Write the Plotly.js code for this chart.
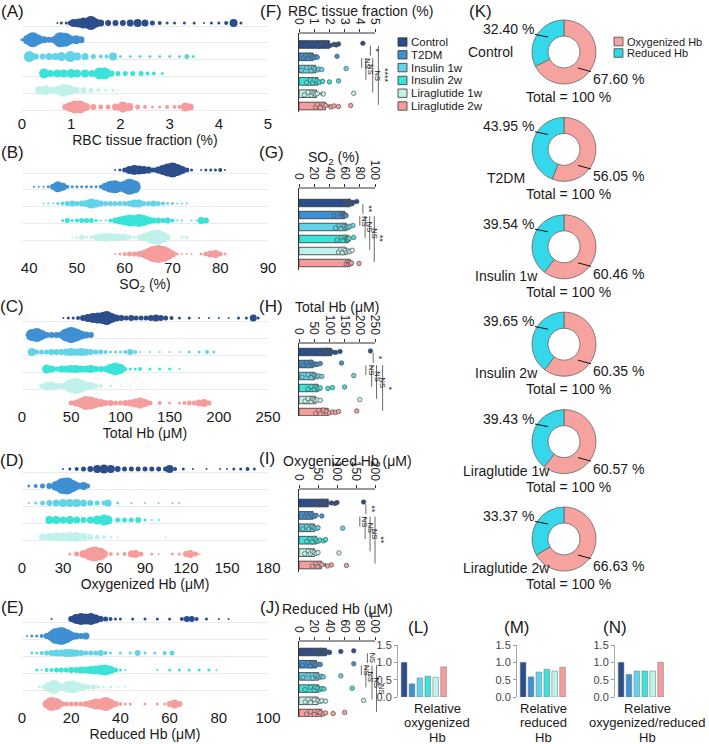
<!DOCTYPE html>
<html><head><meta charset="utf-8">
<script src="https://cdn.plot.ly/plotly-3.0.1.min.js"></script>
<style>html,body{margin:0;padding:0;background:#fff}#chart{width:709px;height:744px}</style>
</head><body><div id="chart"></div>
<script>
// ---------------- DATA ----------------
const groups = ['Control','T2DM','Insulin 1w','Insulin 2w','Liraglutide 1w','Liraglutide 2w'];
const groupColors = ['#2b4d8c','#3f8fd3','#63d3e7','#3ae3d8','#c0f1ea','#f59d9d'];

// bubble strips: [value, bubble diameter]
const rbcBubbles = [
 [[0.72,2],[0.8,3],[0.9,3],[0.98,5],[1.05,8],[1.15,9],[1.25,11],[1.4,14],[1.5,9],[1.6,7],[1.75,6],[1.9,6],[2.05,6],[2.2,7],[2.35,8],[2.5,7],[2.65,5],[2.8,4],[2.95,3],[3.1,3],[3.3,3],[3.5,3],[3.7,2],[3.85,3],[4.0,3],[4.15,4],[4.3,8],[4.45,3]],
 [[0.0,3],[0.12,10],[0.22,15],[0.33,10],[0.45,7],[0.55,6],[0.65,7],[0.78,15],[0.88,14],[0.98,9],[1.1,9],[1.2,7]],
 [[0.15,11],[0.28,6],[0.42,6],[0.55,7],[0.68,7],[0.8,9],[0.98,11],[1.12,8],[1.28,7],[1.45,5],[1.6,4],[1.72,4],[1.85,8],[2.0,3],[2.2,3],[2.4,3],[2.6,3],[2.8,3],[3.0,3],[3.2,3],[3.35,5],[3.48,3]],
 [[0.45,10],[0.58,7],[0.72,8],[0.85,8],[1.0,9],[1.12,8],[1.28,8],[1.42,7],[1.58,12],[1.68,12],[1.82,6],[1.95,5],[2.1,5],[2.25,5],[2.42,5],[2.55,4],[2.68,4],[2.85,3]],
 [[0.35,8],[0.48,10],[0.62,7],[0.75,9],[0.85,13],[0.97,10],[1.1,7],[1.25,6],[1.4,5],[1.55,4],[1.7,3],[1.85,3],[1.95,2]],
 [[0.88,6],[0.98,10],[1.08,13],[1.18,13],[1.3,8],[1.45,6],[1.6,5],[1.75,5],[1.9,7],[2.05,11],[2.18,8],[2.35,5],[2.5,4],[2.65,3],[2.8,3],[2.95,4],[3.1,4],[3.2,4],[3.32,9],[3.42,7]]
];
const so2Bubbles = [
 [[58,2],[59,3],[60,5],[61,8],[62,10],[63,9],[64,8],[65,7],[66,5],[67,7],[68,10],[69,13],[70,15],[71,12],[72,8],[73,5],[74,3],[76,2],[77,3],[78,3],[79,3],[80,4],[81,2]],
 [[41,2],[42,2],[43,2],[44,3],[45,6],[46,11],[47,8],[48,4],[49,3],[50,3],[51,3],[52,3],[53,3],[54,3],[55,4],[56,8],[57,12],[58,13],[59,10],[60,12],[61,16],[62,13]],
 [[43,2],[44,2],[45,2],[46,3],[47,4],[48,5],[49,6],[50,5],[51,6],[52,7],[53,10],[54,8],[55,6],[56,5],[57,5],[58,5],[59,5],[60,5],[61,6],[62,8],[63,8],[64,5],[65,5],[66,6],[67,5],[68,4],[69,3],[70,3],[71,2],[72,2],[73,2]],
 [[47,3],[48,5],[49,3],[50,4],[51,5],[52,5],[53,5],[54,3],[55,2],[56,2],[57,4],[58,6],[59,8],[60,10],[61,12],[62,11],[63,13],[64,11],[65,8],[66,6],[67,6],[68,5],[69,6],[70,4],[71,2],[72,2],[74,2],[75,2],[76,7],[77,6]],
 [[49,2],[50,3],[51,5],[52,3],[53,4],[54,6],[55,8],[56,9],[57,8],[58,8],[59,7],[60,7],[61,5],[62,3],[63,5],[64,8],[65,11],[66,14],[67,15],[68,11],[69,6],[72,3],[73,3]],
 [[58,2],[59,3],[60,4],[61,5],[62,5],[63,6],[64,8],[65,12],[66,16],[67,18],[68,16],[69,12],[70,7],[71,3],[72,2],[73,2],[74,2],[76,3],[77,5],[78,7],[79,8],[80,5],[81,3]]
];
const totalBubbles = [
 [[42,2],[47,3],[52,3],[57,4],[62,6],[67,8],[72,10],[77,11],[82,12],[86,14],[91,10],[96,7],[101,6],[106,5],[111,6],[116,5],[121,5],[126,5],[131,6],[136,7],[141,6],[146,5],[152,4],[160,3],[170,3],[180,2],[190,2],[200,2],[210,2],[220,3],[228,3],[235,7],[240,3]],
 [[5,3],[10,12],[15,14],[20,10],[25,6],[30,6],[35,6],[40,7],[45,13],[50,16],[55,13],[60,9],[65,7],[70,6]],
 [[10,8],[15,5],[20,5],[25,5],[30,6],[35,6],[40,6],[45,7],[50,8],[55,7],[60,8],[65,7],[70,6],[75,5],[80,5],[85,4],[90,3],[95,3],[100,3],[105,4],[110,6],[115,4],[120,2],[130,2],[140,2],[150,2],[160,2],[170,3],[180,3],[188,4],[195,3]],
 [[25,9],[30,7],[35,5],[40,7],[45,7],[50,8],[55,8],[60,7],[65,7],[70,8],[75,6],[80,6],[85,6],[90,10],[95,13],[100,10],[105,4],[110,3],[115,3],[120,4],[130,3],[140,3],[150,3],[160,2]],
 [[20,5],[25,8],[30,9],[35,6],[40,6],[45,8],[50,14],[55,16],[60,13],[65,9],[70,8],[75,5],[80,4],[90,3],[100,2],[110,2]],
 [[50,5],[55,7],[60,10],[65,14],[70,13],[75,10],[80,8],[85,6],[90,6],[95,5],[100,5],[105,6],[110,7],[115,9],[120,11],[125,8],[130,5],[140,4],[150,3],[160,3],[165,4],[170,5],[175,5],[180,7],[185,8],[190,5]]
];
const oxyBubbles = [
 [[30,2],[35,3],[40,4],[45,5],[50,6],[55,8],[60,9],[65,8],[70,6],[75,5],[80,5],[85,5],[90,5],[95,5],[100,5],[105,5],[108,8],[112,4],[118,3],[125,2],[135,2],[145,2],[150,2],[155,3],[160,3],[165,4],[170,3]],
 [[5,3],[10,4],[15,5],[20,6],[25,10],[30,16],[33,17],[37,12],[40,8],[45,8],[48,5]],
 [[5,2],[10,3],[15,5],[20,6],[25,7],[30,8],[35,8],[40,8],[45,7],[50,6],[55,5],[60,5],[63,7],[70,3],[80,2],[90,2],[100,2],[110,2],[115,2]],
 [[20,8],[25,8],[30,7],[35,8],[40,7],[45,6],[50,7],[55,9],[60,11],[63,9],[70,5],[75,5],[80,5],[85,6],[90,3],[95,2],[100,2]],
 [[15,7],[20,8],[25,9],[30,9],[35,10],[40,10],[45,8],[50,6],[55,5],[60,4],[65,3],[70,2],[105,2]],
 [[35,3],[40,5],[45,8],[50,13],[53,15],[57,13],[60,8],[65,4],[70,3],[75,4],[80,7],[83,8],[87,5],[95,3],[100,2],[110,3],[115,3],[120,6],[123,8],[127,5],[130,2]]
];
const redBubbles = [
 [[12,2],[20,6],[22,10],[24,12],[26,11],[28,12],[30,9],[32,6],[34,5],[36,4],[38,3],[40,3],[45,3],[50,3],[55,3],[60,3],[65,4],[67,6],[69,6],[71,4],[75,3],[80,2],[84,2]],
 [[2,2],[4,3],[6,3],[8,4],[10,6],[12,10],[14,16],[16,18],[18,14],[20,9],[22,7],[24,6],[26,7]],
 [[4,3],[6,3],[8,4],[10,5],[12,6],[14,7],[16,7],[18,8],[20,8],[22,7],[24,6],[26,5],[28,5],[30,5],[32,6],[34,4],[36,3],[40,3],[44,3],[47,6],[50,3],[54,3],[58,4],[61,5]],
 [[6,3],[8,2],[10,4],[12,4],[14,5],[16,5],[18,5],[20,6],[22,6],[24,7],[26,7],[28,8],[30,9],[32,10],[34,11],[36,8],[38,5],[40,3],[42,2],[55,2],[60,3],[64,3],[68,3],[72,3],[76,3],[79,2]],
 [[7,3],[9,5],[11,10],[13,14],[15,8],[17,7],[19,12],[21,13],[23,9],[25,7],[27,5],[29,5],[31,4],[33,3],[36,3],[39,2],[42,2]],
 [[10,8],[12,14],[14,12],[16,6],[18,5],[20,5],[22,5],[24,5],[26,6],[28,8],[30,11],[32,11],[34,14],[36,10],[38,6],[40,4],[42,3],[44,3],[50,3],[55,3],[58,3],[60,6],[62,9],[64,6]]
];

// bar panels: means, SEM, individual animals
const rbcMeans = [2.0, 0.93, 1.1, 1.25, 1.15, 1.74];
const rbcSem = [0.35, 0.2, 0.28, 0.22, 0.32, 0.25];
const rbcDots = [[0.55,0.9,1.3,1.55,1.7,2.05,2.3,2.45,2.6,4.2],[0.3,0.45,0.6,0.75,0.9,1.0,1.1,1.2,2.5],[0.15,0.5,0.8,0.95,1.05,1.2,1.3,1.5,3.1],[0.5,0.75,0.9,1.0,1.2,1.35,1.55,2.0,2.6],[0.35,0.6,0.8,0.9,1.0,1.1,1.2,1.6,3.6],[1.1,1.2,1.4,1.6,1.75,2.1,2.3,2.6,3.4]];
const so2Means = [67, 60, 62.5, 65, 62, 67];
const so2Sem = [2, 1.5, 2.2, 2, 1.8, 1.8];
const so2Dots = [[60,62,64,66,67,68,69,70,71,76],[46,55,57,58,59,60,61,62],[48,53,55,58,60,62,63,65,67,71],[50,56,58,60,62,63,64,65,66,72],[52,55,57,59,61,63,65,67,70],[62,64,65,66,67,68,69,79]];
const totalMeans = [107, 46, 52, 63, 55, 96];
const totalSem = [16, 10, 15, 11, 17, 12];
const totalDots = [[40,70,80,90,95,100,110,120,135,235],[15,25,30,40,45,50,55,60,70,140],[10,30,40,50,55,60,65,75,180],[30,40,50,55,60,65,70,95,110,150],[20,30,40,45,50,55,60,70,200],[55,65,70,80,90,100,110,120,130,190]];
const oxyMeans = [77, 37, 41, 46, 41, 59];
const oxySem = [12, 5, 10, 6, 9, 10];
const oxyDots = [[35,45,55,60,65,70,85,95,100,170],[15,20,25,30,35,40,45,60],[10,20,25,35,40,45,50,115],[20,30,35,40,45,50,55,65,70],[15,25,30,35,40,45,50,105],[35,45,50,55,60,75,85,125]];
const redMeans = [36, 23, 26, 26, 25, 30];
const redSem = [6, 6, 4, 5, 7, 5];
const redDots = [[10,20,25,28,30,35,38,40,55,72],[5,12,15,18,20,22,25,28,72],[5,12,18,22,25,28,30,32,55],[8,15,20,22,25,28,30,33,70],[8,12,15,20,25,28,30,35,85],[10,15,20,25,28,32,35,45,60]];

// significance brackets: [fromRow, toRow, value, label]
const rbcSig = [[0,1,4.7,'*'],[1,2,4.12,'NS'],[1,3,4.4,'NS'],[1,4,4.85,'NS'],[0,5,5.22,'****']];
const so2Sig = [[0,1,84,'**'],[1,2,80,'NS'],[1,3,87,'NS'],[1,4,93,'NS'],[1,5,99,'**']];
const totalSig = [[0,1,244,'*'],[1,2,220,'NS'],[1,3,239,'NS'],[1,4,255,'NS'],[1,5,275,'*']];
const oxySig = [[0,1,176,'**'],[1,2,160,'NS'],[1,3,174,'NS'],[1,4,187,'NS'],[1,5,200,'**']];
const redSig = [[0,1,90,'NS'],[1,2,82,'NS'],[1,3,88,'NS'],[1,4,96,'NS'],[1,5,102,'NS']];

// donuts
const oxyPct = [67.60, 56.05, 60.46, 60.35, 60.57, 66.63];
const redPct = [32.40, 43.95, 39.54, 39.65, 39.43, 33.37];
const donutLabels = ['Oxygenized Hb', 'Reduced Hb'];
const donutColors = ['#f6a29f', '#35d7ea'];

// relative bars
const relOxy = [1.0, 0.38, 0.55, 0.6, 0.57, 0.87];
const relRed = [1.0, 0.58, 0.72, 0.8, 0.75, 0.86];
const relRatio = [1.0, 0.65, 0.75, 0.75, 0.75, 1.0];

// ---------------- BUILD ----------------
const W = 709, H = 744;
const px = x => x / W, py = y => 1 - y / H;
const FONT = 'Liberation Sans, Arial, Helvetica, sans-serif';
const TXT = '#1a1a1a';
const traces = [], shapes = [], annotations = [];
const layout = {
  width: W, height: H, margin: {l:0, r:0, t:0, b:0},
  paper_bgcolor: '#fff', plot_bgcolor: 'rgba(0,0,0,0)',
  showlegend: false, font: {family: FONT, color: TXT}, hovermode: false
};
const axName = n => (n === 1 ? '' : String(n));
function note(text, x, y, size, opts) {
  annotations.push(Object.assign({text, x: px(x), y: py(y), xref:'paper', yref:'paper',
    showarrow:false, font:{size, color:TXT, family:FONT}, xanchor:'center', yanchor:'middle', borderpad:0}, opts||{}));
}

// ---- A-E bubble strips ----
const bubblePanels = [
  {data: rbcBubbles, range:[0,5], ticks:[0,1,2,3,4,5], title:'RBC tissue fraction (%)', r0:23, r5:107, tickY:124, letter:'(A)', ly:12},
  {data: so2Bubbles, range:[38.5,90], ticks:[40,50,60,70,80,90], title:'SO<sub>2</sub> (%)', r0:170, r5:254, tickY:268, letter:'(B)', ly:152},
  {data: totalBubbles, range:[0,250], ticks:[0,50,100,150,200,250], title:'Total Hb (μM)', r0:318, r5:403, tickY:417, letter:'(C)', ly:306},
  {data: oxyBubbles, range:[0,180], ticks:[0,30,60,90,120,150,180], title:'Oxygenized Hb (μM)', r0:469, r5:554, tickY:568, letter:'(D)', ly:460},
  {data: redBubbles, range:[0,100], ticks:[0,20,40,60,80,100], title:'Reduced Hb (μM)', r0:619, r5:704, tickY:718, letter:'(E)', ly:607}
];
bubblePanels.forEach((p, i) => {
  const n = i + 1, xa = 'x' + axName(n), ya = 'y' + axName(n);
  const s = (p.r5 - p.r0) / 5, top = p.r0 - 9, bot = p.tickY - 11;
  layout['xaxis' + axName(n)] = {domain:[px(22), px(268)], range:p.range, anchor:ya, tickvals:p.ticks,
    showgrid:false, zeroline:false, showline:false, ticks:'', tickfont:{size:15, color:TXT},
    title:{text:p.title, font:{size:14, color:TXT}, standoff:2}};
  layout['yaxis' + axName(n)] = {domain:[py(bot), py(top)], range:[(bot - p.r0)/s, (top - p.r0)/s], anchor:xa,
    tickvals: groups.map((g, k) => k + 0.18), showticklabels:false, ticks:'', showgrid:true,
    gridcolor:'#ebebeb', gridwidth:1, zeroline:false, showline:false};
  p.data.forEach((pts, g) => {
    traces.push({type:'scatter', mode:'markers', x: pts.map(d => d[0]), y: pts.map(() => g),
      marker:{size: pts.map(d => d[1]), color: groupColors[g], line:{width:0}, opacity:1},
      xaxis: xa, yaxis: ya, cliponaxis:false, hoverinfo:'skip'});
  });
  note(p.letter, 12, p.ly, 17);
});

// ---- F-J bar panels ----
const barPanels = [
  {means: rbcMeans, sem: rbcSem, dots: rbcDots, sig: rbcSig, max:5, dtick:1, title:'RBC tissue fraction (%)', tx:360, ty:11, axisY:33, r0:44.5, r5:106, botY:112, letter:'(F)', lx:271, ly:12},
  {means: so2Means, sem: so2Sem, dots: so2Dots, sig: so2Sig, max:100, dtick:20, title:'SO<sub>2</sub> (%)', tx:333, ty:158, axisY:188, r0:203, r5:263, botY:270, letter:'(G)', lx:271, ly:152},
  {means: totalMeans, sem: totalSem, dots: totalDots, sig: totalSig, max:250, dtick:50, title:'Total Hb (μM)', tx:337, ty:307, axisY:343, r0:352, r5:412, botY:416, letter:'(H)', lx:271, ly:306},
  {means: oxyMeans, sem: oxySem, dots: oxyDots, sig: oxySig, max:200, dtick:50, title:'Oxygenized Hb (μM)', tx:347, ty:461, axisY:489, r0:503, r5:565, botY:572, letter:'(I)', lx:267, ly:458},
  {means: redMeans, sem: redSem, dots: redDots, sig: redSig, max:100, dtick:20, title:'Reduced Hb (μM)', tx:337, ty:609, axisY:641, r0:652, r5:713, botY:717, letter:'(J)', lx:270, ly:607}
];
barPanels.forEach((p, i) => {
  const n = i + 6, xa = 'x' + n, ya = 'y' + n;
  const s = (p.r5 - p.r0) / 5;
  const tv = []; for (let v = 0; v <= p.max + 1e-9; v += p.dtick) tv.push(v);
  layout['xaxis' + n] = {domain:[px(299), px(389)], range:[0, p.max * 1.184], anchor:ya, side:'top',
    tickvals: tv, tickangle:90, ticks:'outside', ticklen:3, tickcolor:'#333', tickfont:{size:12, color:TXT},
    showgrid:false, zeroline:false, showline:false};
  layout['yaxis' + n] = {domain:[py(p.botY), py(p.axisY)], type:'category', categoryorder:'array', categoryarray:groups,
    range:[(p.botY - p.r0)/s, (p.axisY - p.r0)/s], anchor:xa, showticklabels:false, ticks:'',
    showgrid:false, zeroline:false, showline:true, linecolor:'#333', linewidth:1};
  traces.push({type:'bar', orientation:'h', x:p.means, y:groups, width:0.62,
    marker:{color:groupColors, line:{color:'#333', width:0.8}},
    error_x:{type:'data', array:p.sem, color:'#333', thickness:1, width:2},
    xaxis:xa, yaxis:ya, hoverinfo:'skip'});
  p.dots.forEach((vals, g) => {
    traces.push({type:'box', orientation:'h', x: vals, y: vals.map(() => groups[g]), boxpoints:'all',
      jitter:0.75, pointpos:0, fillcolor:'rgba(0,0,0,0)', line:{color:'rgba(0,0,0,0)', width:0},
      whiskerwidth:0, marker:{color:groupColors[g], size:4.5, line:{color:'#555', width:0.7}},
      xaxis:xa, yaxis:ya, hoverinfo:'skip'});
  });
  // top axis line
  shapes.push({type:'line', xref:xa, yref:ya + ' domain', x0:0, x1:p.max, y0:1, y1:1, line:{color:'#333', width:1}});
  // significance brackets
  p.sig.forEach(b => {
    shapes.push({type:'line', xref:xa, yref:ya, x0:b[2], x1:b[2], y0:b[0] + 0.1, y1:b[1] - 0.1, line:{color:'#444', width:0.8}});
    annotations.push({text:b[3], xref:xa, yref:ya, x:b[2], y:(b[0] + b[1]) / 2, xshift: b[3] === 'NS' ? 5 : 6,
      showarrow:false, textangle:90, font:{size:b[3] === 'NS' ? 7.5 : 9, color:TXT, family:FONT}});
  });
  note(p.title, p.tx, p.ty, 14);
  note(p.letter, p.lx, p.ly, 17);
});

// legend for F
groups.forEach((g, k) => {
  const cy = 42 + k * 12.8;
  shapes.push({type:'rect', xref:'paper', yref:'paper', x0:px(398), x1:px(407), y0:py(cy + 4.2), y1:py(cy - 4.2),
    fillcolor:groupColors[k], line:{color:'#333', width:0.8}});
  note(g, 410, cy, 11.5, {xanchor:'left'});
});

// ---- K donuts ----
const donutCx = 564, donutR = 32;
note('(K)', 481, 12, 17);
groups.forEach((g, k) => {
  const cy = 52 + k * 97.4;
  traces.push({type:'pie', values:[oxyPct[k], redPct[k]], labels:donutLabels, hole:0.5, sort:false,
    direction:'clockwise', rotation:0, textinfo:'none', hoverinfo:'skip', showlegend:false,
    marker:{colors:donutColors, line:{color:'#666', width:0.8}},
    domain:{x:[px(donutCx - donutR), px(donutCx + donutR)], y:[py(cy + donutR), py(cy - donutR)]}});
  // group label
  if (k === 0) note(g, 490, cy, 14);
  else note(g, 506, cy + 29, 14);
  // percentage labels with leader lines
  annotations.push({text: redPct[k].toFixed(2) + ' %', xref:'paper', yref:'paper', x:px(548), y:py(cy - 15),
    ax:-40, ay:-8, showarrow:true, arrowhead:0, arrowwidth:1, arrowcolor:'#111', standoff:0,
    font:{size:14, color:TXT, family:FONT}});
  annotations.push({text: oxyPct[k].toFixed(2) + ' %', xref:'paper', yref:'paper', x:px(578), y:py(cy + 16),
    ax:40, ay:11, showarrow:true, arrowhead:0, arrowwidth:1, arrowcolor:'#111', standoff:0,
    font:{size:14, color:TXT, family:FONT}});
  note('Total = 100 %', 568, cy + 45, 14);
});
// K legend
donutLabels.forEach((lab, k) => {
  const cy = 41.5 + k * 11.5;
  shapes.push({type:'rect', xref:'paper', yref:'paper', x0:px(614), x1:px(623), y0:py(cy + 4.3), y1:py(cy - 4.3),
    fillcolor:donutColors[k], line:{color:'#444', width:0.8}});
  note(lab, 626, cy, 11, {xanchor:'left'});
});

// ---- L-N relative bars ----
const relPanels = [
  {vals: relOxy, x0:398, letter:'(L)', lx:418, lines:['Relative','oxygenized','Hb'], tx:437},
  {vals: relRed, x0:517, letter:'(M)', lx:516, lines:['Relative','reduced','Hb'], tx:543},
  {vals: relRatio, x0:615, letter:'(N)', lx:615, lines:['Relative','oxygenized/reduced','Hb'], tx:647}
];
relPanels.forEach((p, i) => {
  const n = i + 11, xa = 'x' + n, ya = 'y' + n;
  layout['xaxis' + n] = {domain:[px(p.x0), px(p.x0 + 50)], type:'category', categoryorder:'array', categoryarray:groups,
    range:[-0.77, 5.56], anchor:ya, showticklabels:false, ticks:'', showgrid:false, zeroline:false, showline:false};
  layout['yaxis' + n] = {domain:[py(697), py(645)], range:[0, 1.5], anchor:xa, tickvals:[0, 0.5, 1, 1.5],
    ticktext:['0.0','0.5','1.0','1.5'], ticks:'outside', ticklen:3, tickcolor:'#999', showline:true,
    linecolor:'#aaa', linewidth:1, showgrid:false, zeroline:false, tickfont:{size:11, color:'#444'}};
  traces.push({type:'bar', x:groups, y:p.vals, width:0.72,
    marker:{color:groupColors, line:{color:'#777', width:0.5}}, xaxis:xa, yaxis:ya, hoverinfo:'skip'});
  note(p.letter, p.lx, 627, 17);
  p.lines.forEach((t, j) => note(t, p.tx, 708 + j * 14.5, 13));
});

layout.shapes = shapes;
layout.annotations = annotations;
Plotly.newPlot('chart', traces, layout, {displayModeBar:false, staticPlot:true});
</script>
</body></html>
